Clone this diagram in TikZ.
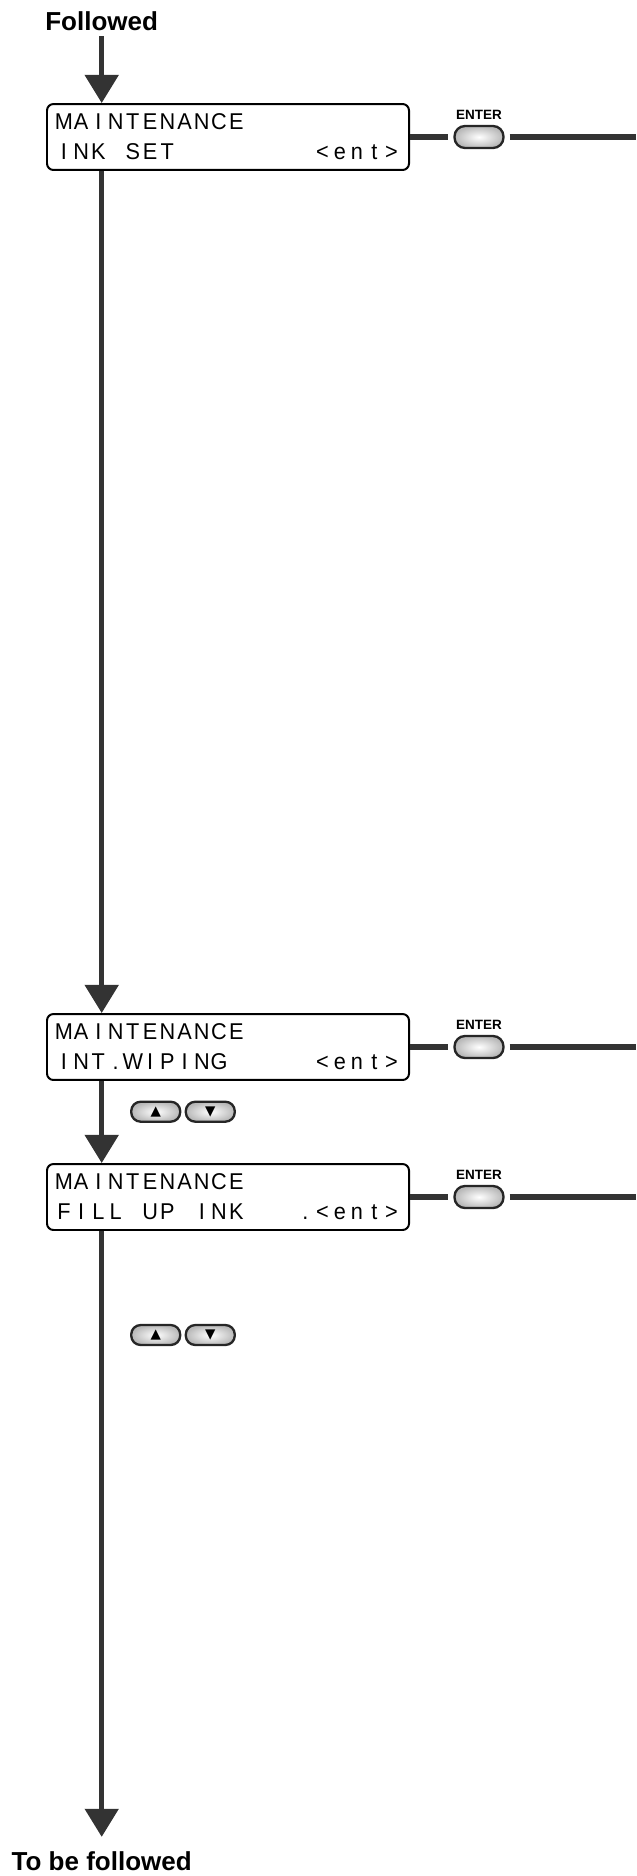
\documentclass[tikz,border=0pt]{standalone}
\usepackage{fontspec}
\setmainfont{Liberation Sans}
\newfontfamily\lcdfont[FakeStretch=0.95]{Liberation Sans}
\newfontfamily\symfont{DejaVu Sans}
\usepackage{tikz}
\usetikzlibrary{positioning,arrows.meta}

% one character per display cell
\newlength\lcdcell
\setlength\lcdcell{14.72pt}
\def\lcdloop#1{\ifx#1\relax\else\makebox[\lcdcell][c]{#1}\expandafter\lcdloop\fi}
\newcommand\lcd[1]{\lcdloop#1\relax}

\begin{document}
\begin{tikzpicture}[x=0.3mm, y=-0.3mm,
  title/.style={font=\bfseries\fontsize{22.2}{24}\selectfont, inner sep=0pt},
  lcdbox/.style={draw=black, line width=1.7pt, rounded corners=5.5pt,
    minimum width=309pt, minimum height=56.3pt, inner sep=0pt},
  lcdtext/.style={font=\lcdfont\fontsize{19.5}{19.5}\selectfont, inner sep=0pt, anchor=base west},
  flow/.style={draw=black!80, line width=4.3pt, -{Triangle[width=28.2pt, length=24pt]}},
  link/.style={draw=black!80, line width=4.3pt},
  keybtn/.style={draw=black!85, line width=2pt, rounded corners=8pt, minimum width=41.8pt,
    minimum height=17pt, inner sep=0pt, inner color=white, outer color=gray!55,
    font=\symfont\fontsize{11.5}{11.5}\selectfont},
  entbtn/.style={keybtn, minimum height=18.8pt, rounded corners=9pt},
  keylabel/.style={font=\bfseries\fontsize{11.5}{12}\selectfont, inner sep=0pt}]
\useasboundingbox (0,0) rectangle (636,1876);

% ---- flow column ----
\node[title, anchor=base] (followed) at (101.7,30) {Followed};
\node[lcdbox] (inkset) at (228,137) {};
\node[lcdbox] (wiping) at (228,1047) {};
\node[lcdbox] (fillup) at (228,1197) {};
\node[title, anchor=base] (tobefollowed) at (101.7,1870) {To be followed};

% ---- display texts ----
\node[lcdtext] (inkset1) at ([xshift=7.7pt, yshift=-23pt]inkset.north west) {\lcd{MAINTENANCE}};
\node[lcdtext] (inkset2) at ([xshift=7.7pt, yshift=-48pt]inkset.north west) {\lcd{INK~SET~~~~~~~~<ent>}};
\node[lcdtext] (wiping1) at ([xshift=7.7pt, yshift=-23pt]wiping.north west) {\lcd{MAINTENANCE}};
\node[lcdtext] (wiping2) at ([xshift=7.7pt, yshift=-48pt]wiping.north west) {\lcd{INT.WIPING~~~~~<ent>}};
\node[lcdtext] (fillup1) at ([xshift=7.7pt, yshift=-23pt]fillup.north west) {\lcd{MAINTENANCE}};
\node[lcdtext] (fillup2) at ([xshift=7.7pt, yshift=-48pt]fillup.north west) {\lcd{FILL~UP~INK~~~.<ent>}};

% ---- ENTER keys ----
\node[entbtn, right=37pt of inkset] (ent1) {};
\node[entbtn, right=37pt of wiping] (ent2) {};
\node[entbtn, right=37pt of fillup] (ent3) {};
\node[keylabel, above=4.3pt of ent1] (entlbl1) {ENTER};
\node[keylabel, above=4.3pt of ent2] (entlbl2) {ENTER};
\node[keylabel, above=4.3pt of ent3] (entlbl3) {ENTER};
\coordinate (out1) at (636,137);
\coordinate (out2) at (636,1047);
\coordinate (out3) at (636,1197);

% ---- up/down keys ----
\node[keybtn] (up1) at (155.7,1111.7) {▲};
\node[keybtn, right=2.8pt of up1] (dn1) {▼};
\node[keybtn] (up2) at (155.7,1335) {▲};
\node[keybtn, right=2.8pt of up2] (dn2) {▼};

% ---- connectors ----
\draw[flow, shorten <=5pt] (followed.south) -- (followed.south |- inkset.north);
\draw[flow] (followed.south |- inkset.south) -- (followed.south |- wiping.north);
\draw[flow] (followed.south |- wiping.south) -- (followed.south |- fillup.north);
\draw[flow, shorten >=12pt] (followed.south |- fillup.south) -- (tobefollowed.north);
\foreach \i/\b in {1/inkset,2/wiping,3/fillup} {
  \draw[link, shorten >=4.3pt] (\b.east) -- (ent\i.west);
  \draw[link, shorten <=4.3pt] (ent\i.east) -- (out\i);
}
\end{tikzpicture}
\end{document}
